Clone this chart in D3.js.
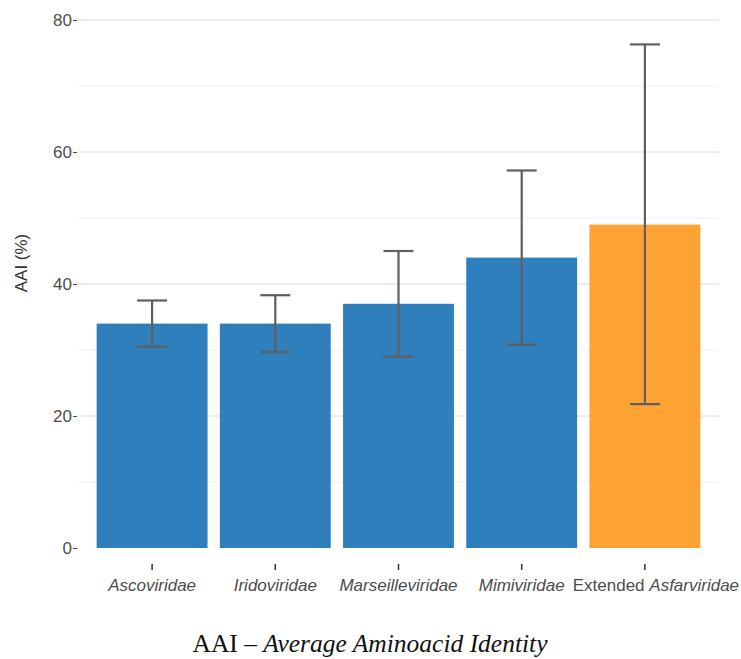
<!DOCTYPE html>
<html>
<head>
<meta charset="utf-8">
<script src="https://cdn.jsdelivr.net/npm/d3@7"></script>
<style>
	body { margin: 0; background: #fff; }
	svg { display: block; }
	.tick text { font-family: "Liberation Sans", Arial, sans-serif; font-size: 17px; fill: #4d4d4d; }
</style>
</head>
<body>
<script>
"use strict";

// Chart data
var families = ["Ascoviridae", "Iridoviridae", "Marseilleviridae", "Mimiviridae", "Extended Asfarviridae"];
var aai = [34, 34, 37, 44, 49];
var aaiLow = [30.5, 29.7, 29, 30.8, 21.8];
var aaiHigh = [37.5, 38.3, 45, 57.2, 76.3];
var yTicks = [0, 20, 40, 60, 80];
var yMinor = [10, 30, 50, 70];

var W = 741, H = 659;
var svg = d3.select('body').append('svg').attr('width', W).attr('height', H);

// Discrete x with ggplot-like padding
var x = d3.scaleBand().domain(families).range([90.5, 706.5]).paddingInner(0.1).paddingOuter(0.05);
var y = d3.scaleLinear().domain([0, 80]).range([548, 20]);
var left = 78, right = 719;

// Grid lines
svg.append('g').selectAll('line').data(yMinor).join('line').
	attr('x1', left).attr('x2', right).attr('y1', y).attr('y2', y).
	attr('stroke', '#f0f0f0').attr('stroke-width', 1);
svg.append('g').selectAll('line').data(yTicks.filter(d => d > 0)).join('line').
	attr('x1', left).attr('x2', right).attr('y1', y).attr('y2', y).
	attr('stroke', '#dcdcdc').attr('stroke-width', 1);

// Bars
var data = families.map((f, i) => ({f: f, v: aai[i], lo: aaiLow[i], hi: aaiHigh[i]}));
svg.append('g').selectAll('rect').data(data).join('rect').
	attr('x', d => x(d.f)).attr('width', x.bandwidth()).
	attr('y', d => y(d.v)).attr('height', d => y(0) - y(d.v)).
	attr('fill', (d, i) => i == 4 ? '#fea234' : '#2f7fbd');

// Error bars
var eb = svg.append('g').attr('stroke', '#5f5f5f').attr('stroke-width', 2.2);
var cx = d => x(d.f) + x.bandwidth() / 2;
eb.selectAll('.v').data(data).join('line').attr('class', 'v').
	attr('x1', cx).attr('x2', cx).attr('y1', d => y(d.lo)).attr('y2', d => y(d.hi));
eb.selectAll('.t').data(data).join('line').attr('class', 't').
	attr('x1', d => cx(d) - 15).attr('x2', d => cx(d) + 15).attr('y1', d => y(d.hi)).attr('y2', d => y(d.hi));
eb.selectAll('.b').data(data).join('line').attr('class', 'b').
	attr('x1', d => cx(d) - 15).attr('x2', d => cx(d) + 15).attr('y1', d => y(d.lo)).attr('y2', d => y(d.lo));

// Y axis
var yAxis = svg.append('g').attr('transform', 'translate(77,0)').
	call(d3.axisLeft(y).tickValues(yTicks).tickSize(4).tickPadding(1).tickFormat(d3.format('d')));
yAxis.select('.domain').remove();
yAxis.selectAll('.tick line').attr('stroke', '#4d4d4d');

// X axis
var xAxis = svg.append('g').attr('transform', 'translate(0,564)').
	call(d3.axisBottom(x).tickSize(6).tickPadding(7));
xAxis.select('.domain').remove();
xAxis.selectAll('.tick line').attr('stroke', '#333').attr('stroke-width', 1.5);
xAxis.selectAll('.tick text').attr('dy', '0.85em').each(function(d) {
	var t = d3.select(this).text(null);
	if (d.indexOf('Extended ') == 0) {
		// last label sits a little right of its tick in the original
		t.attr('dx', 11);
		t.append('tspan').text('Extended ');
		t.append('tspan').attr('font-style', 'italic').text(d.replace('Extended ', ''));
	} else {
		t.append('tspan').attr('font-style', 'italic').text(d);
	}
});

// Y title
svg.append('text').attr('transform', 'translate(27,263) rotate(-90)').
	attr('text-anchor', 'middle').style('font-family', '"Liberation Sans", Arial, sans-serif').
	style('font-size', '17px').attr('fill', '#333').text('AAI (%)');

// Caption
var cap = svg.append('text').attr('x', 370).attr('y', 652).attr('text-anchor', 'middle').
	style('font-family', '"Liberation Serif", "Times New Roman", serif').style('font-size', '25.5px').attr('fill', '#111');
cap.append('tspan').text('AAI \u2013 ');
cap.append('tspan').attr('font-style', 'italic').text('Average Aminoacid Identity');
</script>
</body>
</html>
